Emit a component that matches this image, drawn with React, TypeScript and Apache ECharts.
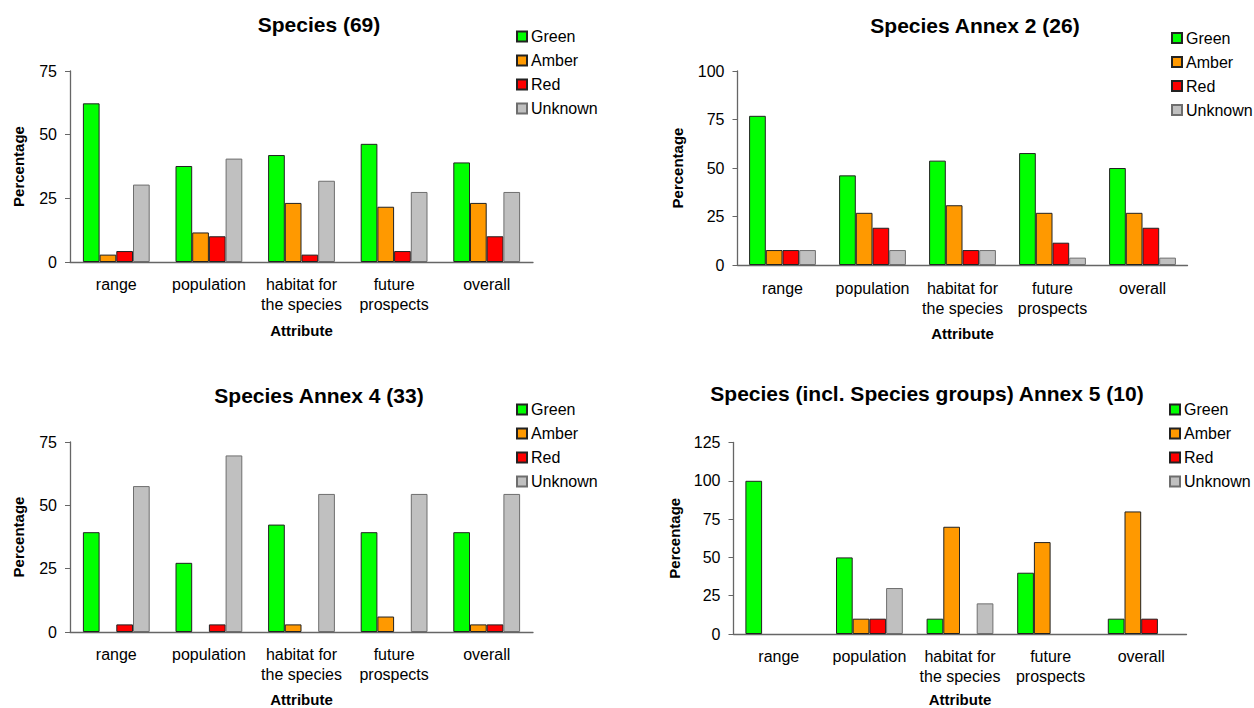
import React, { useEffect, useRef } from "react";
import * as echarts from "echarts";

const categories = ["range", "population", "habitat for\nthe species", "future\nprospects", "overall"];
const seriesNames = ["Green", "Amber", "Red", "Unknown"];
const seriesColors = ["#00FF00", "#FF9900", "#FF0000", "#C0C0C0"];
const seriesBorders = ["#222222", "#222222", "#222222", "#6e6e6e"];

const chartTitles = [
  "Species (69)",
  "Species Annex 2 (26)",
  "Species Annex 4 (33)",
  "Species (incl. Species groups) Annex 5 (10)",
];
const yMax = [75, 100, 75, 125];
const yTickStep = 25;

// Species (69)
const species69Green = [62.3, 37.7, 42.0, 46.4, 39.1];
const species69Amber = [2.9, 11.6, 23.2, 21.7, 23.2];
const species69Red = [4.3, 10.1, 2.9, 4.3, 10.1];
const species69Unknown = [30.4, 40.6, 31.9, 27.5, 27.5];

// Species Annex 2 (26)
const annex2Green = [76.9, 46.2, 53.8, 57.7, 50.0];
const annex2Amber = [7.7, 26.9, 30.8, 26.9, 26.9];
const annex2Red = [7.7, 19.2, 7.7, 11.5, 19.2];
const annex2Unknown = [7.7, 7.7, 7.7, 3.8, 3.8];

// Species Annex 4 (33)
const annex4Green = [39.4, 27.3, 42.4, 39.4, 39.4];
const annex4Amber = [0, 0, 3.0, 6.1, 3.0];
const annex4Red = [3.0, 3.0, 0, 0, 3.0];
const annex4Unknown = [57.6, 69.7, 54.5, 54.5, 54.5];

// Species (incl. Species groups) Annex 5 (10)
const annex5Green = [100, 50, 10, 40, 10];
const annex5Amber = [0, 10, 70, 60, 80];
const annex5Red = [0, 10, 0, 0, 10];
const annex5Unknown = [0, 30, 20, 0, 0];

const chartData = [
  [species69Green, species69Amber, species69Red, species69Unknown],
  [annex2Green, annex2Amber, annex2Red, annex2Unknown],
  [annex4Green, annex4Amber, annex4Red, annex4Unknown],
  [annex5Green, annex5Amber, annex5Red, annex5Unknown],
];

// layout of the four panels (pixels)
const panels = [
  { grid: { left: 70, top: 71, width: 463, height: 191 }, titleX: 319, titleY: 24, legendLeft: 516, legendTop: 28.5, yNameGap: 44, xNameGap: 61, labelMargin: 12 },
  { grid: { left: 737.5, top: 71, width: 450, height: 194 }, titleX: 975, titleY: 25, legendLeft: 1171, legendTop: 30, yNameGap: 53, xNameGap: 61, labelMargin: 13 },
  { grid: { left: 70, top: 442, width: 463, height: 192 }, titleX: 319, titleY: 395, legendLeft: 516, legendTop: 401.5, yNameGap: 44, xNameGap: 60, labelMargin: 12 },
  { grid: { left: 733.5, top: 442.5, width: 453, height: 193 }, titleX: 927, titleY: 393, legendLeft: 1169, legendTop: 401.5, yNameGap: 52, xNameGap: 58, labelMargin: 12 },
];

const FONT = "'Liberation Sans', Arial, sans-serif";

export default function App() {
  const ref = useRef<HTMLDivElement>(null);

  useEffect(() => {
    if (!ref.current) return;
    const chart = echarts.init(ref.current, undefined, { renderer: "svg" });

    const grids = panels.map((p) => ({ ...p.grid, containLabel: false }));
    const xAxes = panels.map((p, i) => ({
      type: "category",
      gridIndex: i,
      data: categories,
      name: "Attribute",
      nameLocation: "middle",
      nameGap: p.xNameGap,
      nameTextStyle: { fontFamily: FONT, fontWeight: "bold", fontSize: 15, color: "#000" },
      axisLine: { show: true, lineStyle: { color: "#666", width: 1.3 } },
      axisTick: { show: false },
      axisLabel: {
        interval: 0,
        margin: p.labelMargin,
        fontFamily: FONT,
        fontSize: 16,
        lineHeight: 20,
        color: "#000",
      },
      splitLine: { show: false },
    }));
    const yAxes = panels.map((p, i) => ({
      type: "value",
      gridIndex: i,
      min: 0,
      max: yMax[i],
      interval: yTickStep,
      name: "Percentage",
      nameLocation: "middle",
      nameGap: p.yNameGap,
      nameTextStyle: { fontFamily: FONT, fontWeight: "bold", fontSize: 15, color: "#000" },
      axisLine: { show: true, lineStyle: { color: "#666", width: 1.3 } },
      axisTick: { show: true, length: 5, lineStyle: { color: "#666" } },
      axisLabel: { margin: 13, fontFamily: FONT, fontSize: 16, color: "#000" },
      splitLine: { show: false },
    }));

    const series: any[] = [];
    chartData.forEach((group, ci) => {
      group.forEach((values, si) => {
        series.push({
          type: "bar",
          name: seriesNames[si],
          xAxisIndex: ci,
          yAxisIndex: ci,
          // zero shares are not drawn at all
          data: values.map((v) => (v === 0 ? "-" : v)),
          barWidth: 16.7,
          barGap: "0%",
          itemStyle: {
            color: seriesColors[si],
            borderColor: seriesBorders[si],
            borderWidth: 1,
          },
        });
      });
    });

    const legends = panels.map((p) => ({
      orient: "vertical",
      left: p.legendLeft,
      top: p.legendTop,
      padding: 0,
      itemWidth: 10,
      itemHeight: 10,
      itemGap: 8,
      icon: "rect",
      selectedMode: false,
      data: seriesNames,
      textStyle: { fontFamily: FONT, fontSize: 16, color: "#000", padding: [0, 0, 0, -1] },
    }));

    const titles = panels.map((p, i) => ({
      type: "text",
      x: p.titleX,
      y: p.titleY,
      style: {
        text: chartTitles[i],
        fontFamily: FONT,
        fontWeight: "bold",
        fontSize: 21,
        fill: "#000",
        textAlign: "center",
        textVerticalAlign: "middle",
      },
    }));

    chart.setOption({
      animation: false,
      backgroundColor: "#ffffff",
      grid: grids,
      xAxis: xAxes,
      yAxis: yAxes,
      legend: legends,
      series,
      graphic: titles,
    });

    return () => chart.dispose();
  }, []);

  return (
    <div
      ref={ref}
      style={{ position: "absolute", left: 0, top: 0, width: 1254, height: 708, background: "#fff" }}
    />
  );
}
